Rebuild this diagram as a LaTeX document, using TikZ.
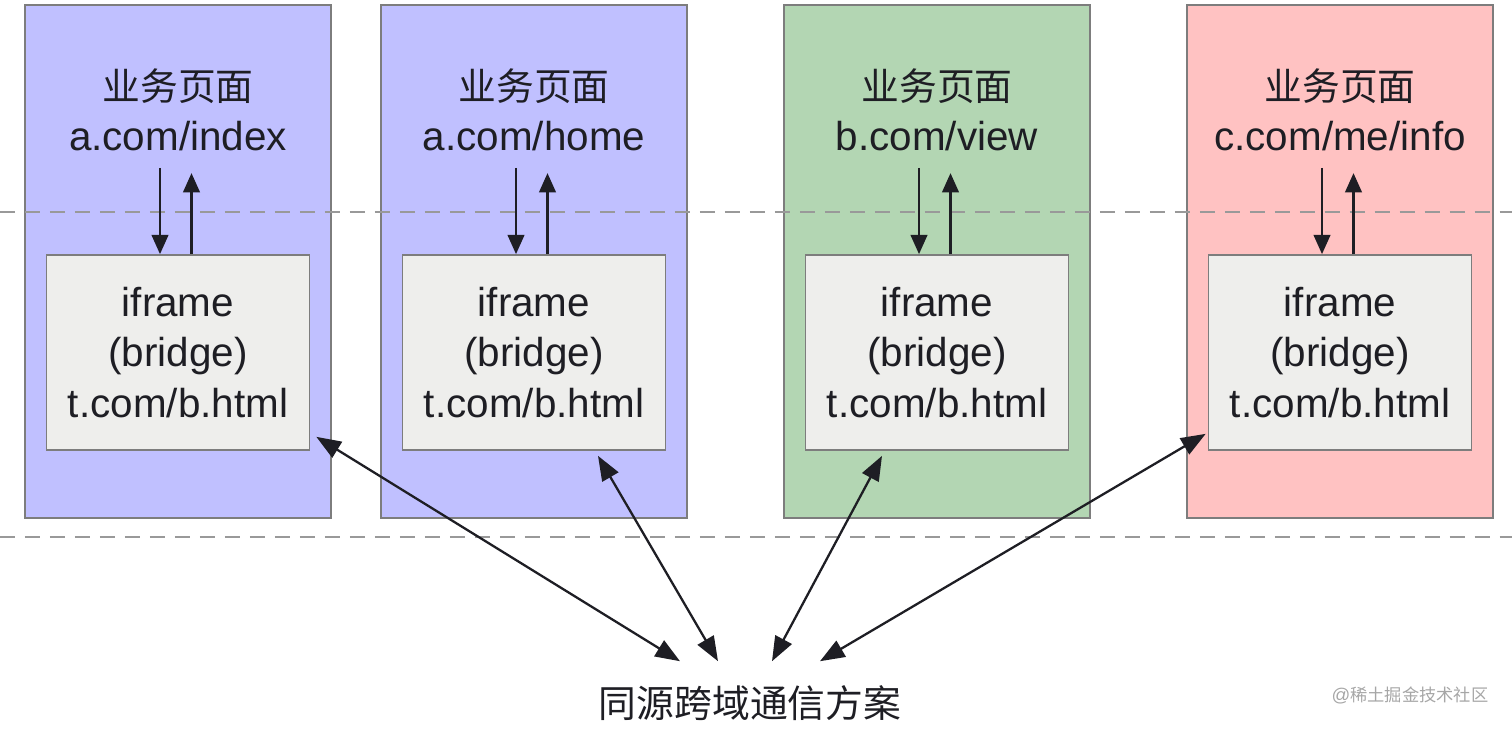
\documentclass[tikz,border=0pt]{standalone}
\usepackage{fontspec}
\setmainfont{Liberation Sans}
\newfontfamily\cjk[Scale=0.935]{Noto Sans CJK SC}
\usepackage{tikz}
\usetikzlibrary{positioning, arrows.meta, calc}
\definecolor{pageblue}{RGB}{192, 192, 255}
\definecolor{pagegreen}{RGB}{179, 214, 179}
\definecolor{pagered}{RGB}{255, 194, 194}
\definecolor{bridgegray}{RGB}{238, 238, 236}
\definecolor{edgegray}{RGB}{125, 125, 125}
\definecolor{inkdark}{RGB}{30, 30, 36}

\begin{document}
\begin{tikzpicture}[x=0.02cm, y=-0.02cm, font=\fontsize{23}{28.5}\selectfont,
    pagebox/.style={draw=edgegray, line width=1pt, minimum width=6.12cm, minimum height=10.26cm},
    bridgebox/.style={draw=edgegray, line width=1pt, fill=bridgegray, text=inkdark,
                      minimum width=5.26cm, minimum height=3.9cm, align=center},
    flow/.style={-{Triangle[length=11pt,width=9.5pt]}, line width=1.3pt, inkdark},
    link/.style={{Triangle[length=14pt,width=10.5pt]}-{Triangle[length=14pt,width=10.5pt]},
                 line width=1.3pt, inkdark}]
  \useasboundingbox (0,0) rectangle (1512,729);
  % Page columns
  \foreach \i/\cx/\col/\url in {1/178/pageblue/{a.com/index}, 2/534/pageblue/{a.com/home},
                                3/937/pagegreen/{b.com/view}, 4/1340/pagered/{c.com/me/info}}{
    \node[pagebox, fill=\col] (page\i) at (\cx, 261.5) {};
    \node[align=center, text=inkdark] (title\i) at (\cx, 110) {{\cjk 业务页面}\\\url};
    \node[bridgebox] (bridge\i) at (\cx, 352.5) {iframe\\(bridge)\\t.com/b.html};
  }
  % Dashed separators
  \draw[gray!80, line width=0.8pt, dash pattern=on 0.3cm off 0.2cm] (0, 212) -- (1512, 212);
  \draw[gray!80, line width=0.8pt, dash pattern=on 0.3cm off 0.2cm] (0, 537) -- (1512, 537);
  % Page <-> bridge
  \foreach \i in {1,...,4}{
    \draw[flow, shorten <=6pt] ([xshift=-0.36cm]title\i.south) -- ([xshift=-0.36cm]bridge\i.north);
    \draw[flow, shorten >=9pt] ([xshift=0.27cm]bridge\i.north) -- ([xshift=0.27cm]title\i.south);
  }
  % Common channel
  \node[text=inkdark] (plan) at (750, 703) {\cjk 同源跨域通信方案};
  \draw[link] ($(bridge1.south east)+(6,-14)$) -- ($(plan.north)+(-70,-18)$);
  \draw[link] ($(bridge2.south)+(64,5)$) -- ($(plan.north)+(-32,-18)$);
  \draw[link] ($(bridge3.south)+(-55,5)$) -- ($(plan.north)+(22,-18)$);
  \draw[link] ($(bridge4.south west)+(-2,-17)$) -- ($(plan.north)+(70,-18)$);
  \node[gray!70, font=\fontsize{10.5}{12}\selectfont] (mark) at (1410, 695) {@{\cjk 稀土掘金技术社区}};
\end{tikzpicture}
\end{document}
